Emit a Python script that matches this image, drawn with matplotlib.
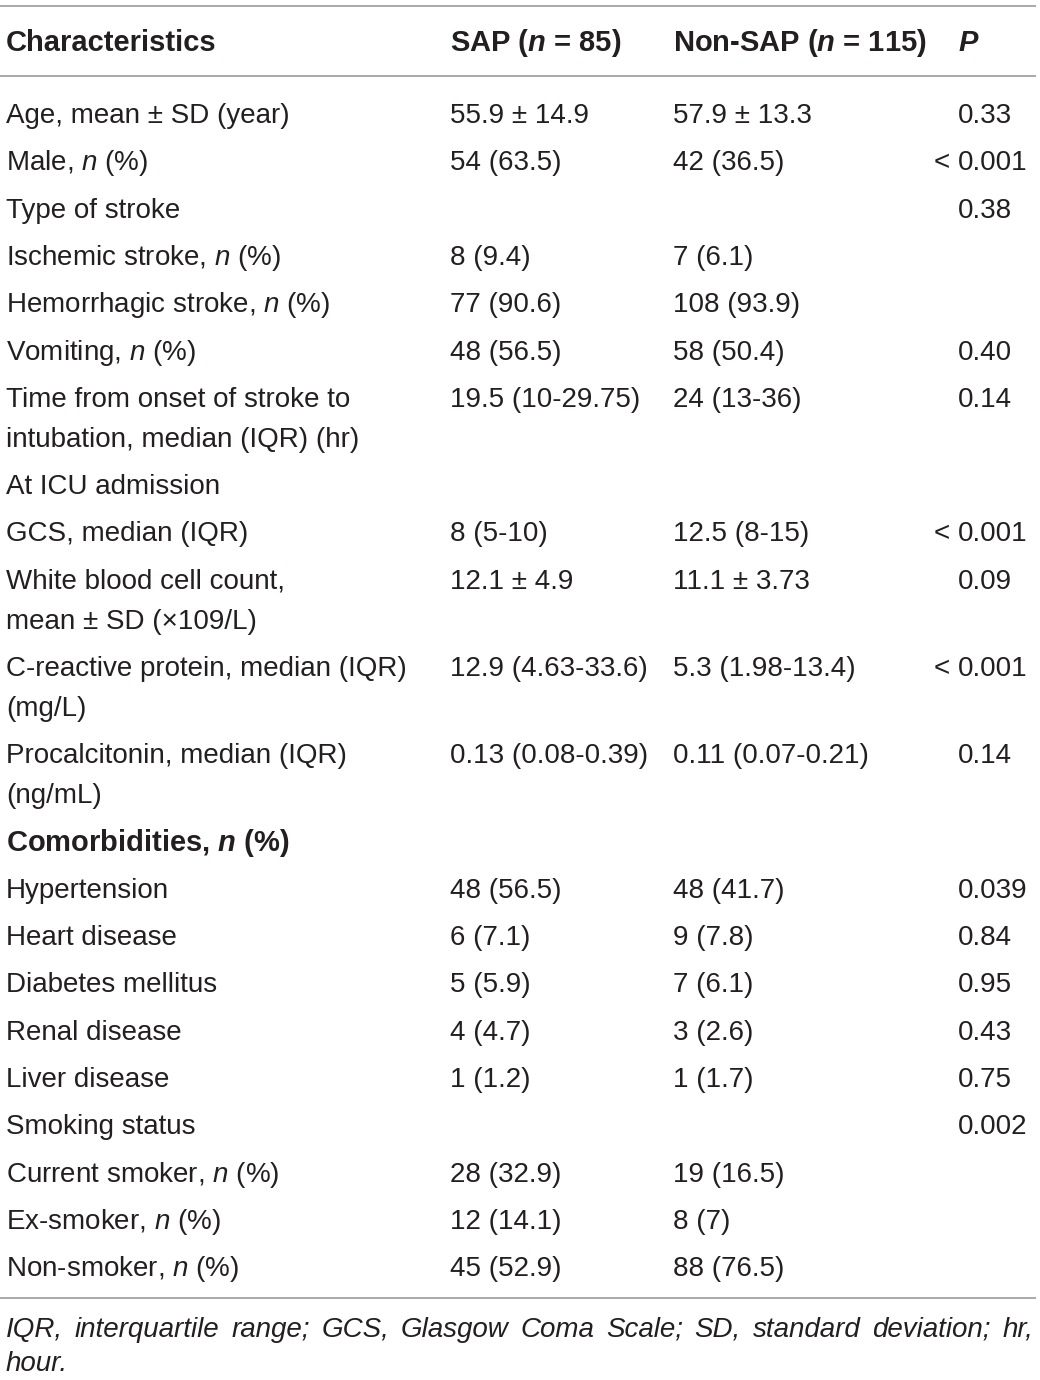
import matplotlib.pyplot as plt

# table contents
header = ["Characteristics", "SAP ($\\mathbfit{n}$ = 85)", "Non-SAP ($\\mathbfit{n}$ = 115)", "$\\mathbfit{P}$"]
labels = [
    "Age, mean ± SD (year)",
    "Male, $n$ (%)",
    "Type of stroke",
    "Ischemic stroke, $n$ (%)",
    "Hemorrhagic stroke, $n$ (%)",
    "Vomiting, $n$ (%)",
    "Time from onset of stroke to\nintubation, median (IQR) (hr)",
    "At ICU admission",
    "GCS, median (IQR)",
    "White blood cell count,\nmean ± SD (×109/L)",
    "C-reactive protein, median (IQR)\n(mg/L)",
    "Procalcitonin, median (IQR)\n(ng/mL)",
    "Comorbidities, $\\mathbfit{n}$ (%)",
    "Hypertension",
    "Heart disease",
    "Diabetes mellitus",
    "Renal disease",
    "Liver disease",
    "Smoking status",
    "Current smoker, $n$ (%)",
    "Ex-smoker, $n$ (%)",
    "Non-smoker, $n$ (%)",
]
sap = ["55.9 ± 14.9", "54 (63.5)", "", "8 (9.4)", "77 (90.6)", "48 (56.5)",
       "19.5 (10-29.75)", "", "8 (5-10)", "12.1 ± 4.9", "12.9 (4.63-33.6)",
       "0.13 (0.08-0.39)", "", "48 (56.5)", "6 (7.1)", "5 (5.9)", "4 (4.7)",
       "1 (1.2)", "", "28 (32.9)", "12 (14.1)", "45 (52.9)"]
nonsap = ["57.9 ± 13.3", "42 (36.5)", "", "7 (6.1)", "108 (93.9)", "58 (50.4)",
          "24 (13-36)", "", "12.5 (8-15)", "11.1 ± 3.73", "5.3 (1.98-13.4)",
          "0.11 (0.07-0.21)", "", "48 (41.7)", "9 (7.8)", "7 (6.1)", "3 (2.6)",
          "1 (1.7)", "", "19 (16.5)", "8 (7)", "88 (76.5)"]
pvals = ["0.33", "< 0.001", "0.38", "", "", "0.40", "0.14", "", "< 0.001",
         "0.09", "< 0.001", "0.14", "", "0.039", "0.84", "0.95", "0.43", "0.75",
         "0.002", "", "", ""]
bold_rows = ["Comorbidities, $\\mathbfit{n}$ (%)"]
footnote = ["IQR, interquartile range; GCS, Glasgow Coma Scale; SD, standard deviation; hr,",
            "hour."]

plt.rcParams["font.family"] = "Liberation Sans"
plt.rcParams["mathtext.fontset"] = "custom"
plt.rcParams["mathtext.rm"] = "Liberation Sans"
plt.rcParams["mathtext.it"] = "Liberation Sans:italic"
plt.rcParams["mathtext.bf"] = "Liberation Sans:bold"
plt.rcParams["mathtext.bfit"] = "Liberation Sans:italic:bold"

fs = 20
fs_head = 21
col = "#231f20"
xs = [6, 450, 673, 958]

fig = plt.figure(figsize=(10.4, 13.8), dpi=100)
ax = fig.add_axes([0, 0, 1, 1])
ax.set_xlim(0, 1040)
ax.set_ylim(1380, 0)
ax.axis("off")

# rules
ax.hlines([6, 76, 1298], 0, 1036, color="#a3a3a3", lw=1.3)

for x, h in zip(xs, header):
    ax.text(x, 51, h, fontsize=fs_head, fontweight="bold", color=col, va="baseline")

y = 123
step, wrap = 47.3, 40
for lab, a, b, p in zip(labels, sap, nonsap, pvals):
    wt = "bold" if lab in bold_rows else "normal"
    size = fs_head if lab in bold_rows else fs
    for k, line in enumerate(lab.split("\n")):
        ax.text(xs[0], y + k * wrap, line, fontsize=size, fontweight=wt, color=col, va="baseline")
    ax.text(xs[1], y, a, fontsize=fs, color=col, va="baseline")
    ax.text(xs[2], y, b, fontsize=fs, color=col, va="baseline")
    if p.startswith("<"):
        ax.text(950, y, "<", fontsize=fs, color=col, va="baseline", ha="right")
        p = p[1:].strip()
    ax.text(xs[3], y, p, fontsize=fs, color=col, va="baseline")
    y += step + wrap * lab.count("\n")

# footnote, first line justified to the table width
r = fig.canvas.get_renderer()
words = footnote[0].split(" ")
arts = [ax.text(0, 1337, w, fontsize=fs, fontstyle="italic", color=col, va="baseline") for w in words]
widths = [a.get_window_extent(r).width for a in arts]
gap = (1033 - 6 - sum(widths)) / (len(words) - 1)
xpos = 6
for a, w in zip(arts, widths):
    a.set_x(xpos)
    xpos += w + gap
ax.text(6, 1371, footnote[1], fontsize=fs, fontstyle="italic", color=col, va="baseline")

fig.savefig("out.png", dpi=100)
